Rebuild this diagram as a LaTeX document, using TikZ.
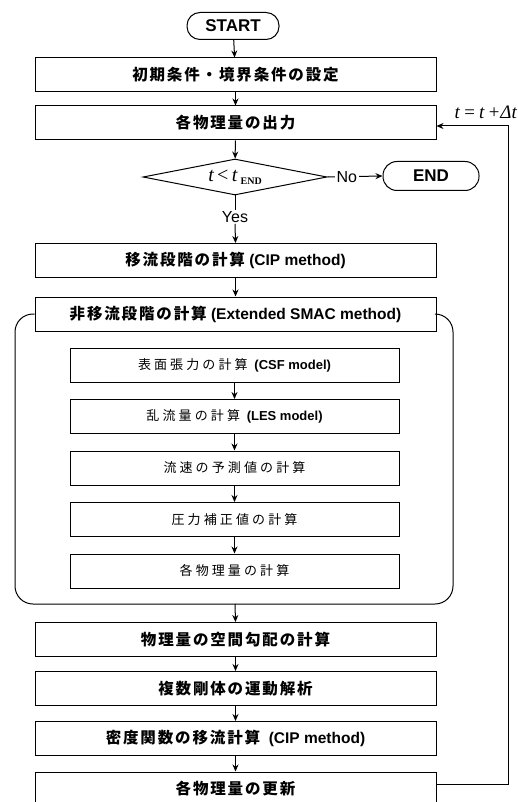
\documentclass[tikz,border=0pt]{standalone}
\usepackage{fontspec}
\setmainfont{Liberation Sans}
\newfontfamily\jp[LetterSpace=12]{Noto Sans CJK JP}
\newfontfamily\jpi[LetterSpace=24]{Noto Sans CJK JP}
\newfontfamily\serif{Liberation Serif}
\usetikzlibrary{shapes.geometric,arrows.meta}
\tikzset{
  ln/.style={line width=1pt},
  mainbox/.style={ln,draw,minimum width=401pt,minimum height=34pt,inner sep=0pt,font=\fontsize{15.5}{15.5}\selectfont\bfseries},
  innerbox/.style={ln,draw,minimum width=329pt,minimum height=34pt,inner sep=0pt,font=\fontsize{13}{13}\selectfont},
  term/.style={ln,draw,rounded corners=13pt,minimum width=92pt,minimum height=27pt,inner sep=0pt,font=\fontsize{17}{17}\selectfont\bfseries},
  arr/.style={ln,-{Stealth[length=7pt,width=6pt]}},
  lab/.style={inner sep=1pt,font=\fontsize{16}{16}\selectfont}
}
\begin{document}
\begin{tikzpicture}[x=1pt,y=-1pt]
\useasboundingbox (0,0) rectangle (517,802);
\clip (0,0) rectangle (517,802);
\node[term] (start) at (233,26) {START};
\node[mainbox] (b1) at (235.5,75) {\jp 初期条件・境界条件の設定};
\node[mainbox] (b2) at (235.5,123) {\jp 各物理量の出力};
\node[ln,draw,diamond,minimum width=184pt,minimum height=36pt,inner sep=0pt,shape aspect=5.1] (dec) at (235,177) {};
\node[font=\fontsize{20}{20}\selectfont\serif] at (dec) {\itshape t\,\upshape<\,\itshape t\,\raisebox{-3pt}{\upshape\bfseries\fontsize{10}{10}\selectfont END}};
\node[term,minimum width=96pt,minimum height=29pt,rounded corners=14pt] (end) at (431,176) {END};
\node[lab] (yes) at (235,217) {Yes};
\node[mainbox] (b3) at (235.5,260.5) {{\jp 移流段階の計算} (CIP method)};
\node[mainbox] (b4) at (235.5,314) {{\jp 非移流段階の計算} (Extended SMAC method)};
\node[innerbox] (i1) at (234.5,365) {{\jpi 表面張力の計算} \textbf{(CSF model)}};
\node[innerbox] (i2) at (234.5,416.5) {{\jpi 乱流量の計算} \textbf{(LES model)}};
\node[innerbox] (i3) at (234.5,468) {\jpi 流速の予測値の計算};
\node[innerbox] (i4) at (234.5,519.5) {\jpi 圧力補正値の計算};
\node[innerbox] (i5) at (234.5,571) {\jpi 各物理量の計算};
\node[mainbox] (b5) at (235.5,639.5) {\jp 物理量の空間勾配の計算};
\node[mainbox] (b6) at (235.5,688.5) {\jp 複数剛体の運動解析};
\node[mainbox] (b7) at (235.5,738.5) {{\jp 密度関数の移流計算}\ \ (CIP method)};
\node[mainbox] (b8) at (235.5,789) {\jp 各物理量の更新};
\coordinate (cbl) at (15,604);
\coordinate (cbr) at (453,604);
\draw[ln,rounded corners=18pt] (b4.west) -| (cbl) -- (cbr) |- (b4.east);
\coordinate (cbot) at (235,604);
\coordinate (fb) at (508,784);
\coordinate (fbt) at (508,126);
\node[font=\fontsize{19}{19}\selectfont\serif\itshape,anchor=east,inner sep=0pt] (tl) at (517,112) {t\,=\,t\,+\textit{Δ}t};
\draw[arr] (start) -- (b1);
\draw[arr] (b1) -- (b2);
\draw[arr] (b2) -- (dec);
\draw[ln] (dec.south) -- (yes.north);
\draw[arr] (yes.south) -- (b3.north);
\draw[arr] (dec.east) -- node[lab,fill=white,pos=0.35,inner sep=2pt] {No} (end.west);
\draw[arr] (b3) -- (b4);
\draw[arr] (i1) -- (i2);
\draw[arr] (i2) -- (i3);
\draw[arr] (i3) -- (i4);
\draw[arr] (i4) -- (i5);
\draw[arr] (cbot) -- (b5.north);
\draw[arr] (b5) -- (b6);
\draw[arr] (b6) -- (b7);
\draw[arr] (b7) -- (b8);
\draw[arr] (b8.east |- fb) -- (fb) -- (fbt) -- (b2.east |- fbt);
\end{tikzpicture}
\end{document}
